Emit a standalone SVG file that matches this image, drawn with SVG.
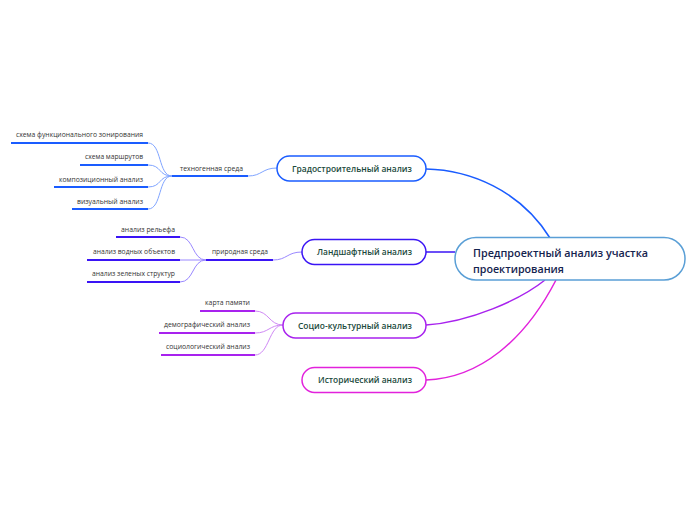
<svg xmlns="http://www.w3.org/2000/svg" width="696" height="520" viewBox="0 0 696 520">
<style>
.node{fill:#fff;stroke-width:1.5}
.nt{font-family:"Open Sans","Noto Sans",sans-serif;font-weight:600;font-size:9.5px;fill:#1b4a3c;text-anchor:middle}
.ct{font-family:"Open Sans","Noto Sans",sans-serif;font-weight:600;font-size:11.5px;fill:#14234f}
.lt{font-family:"Open Sans","Noto Sans",sans-serif;font-size:7px;fill:#333;text-anchor:end}
.st{font-family:"Open Sans","Noto Sans",sans-serif;font-size:7px;fill:#333}
.c{fill:none}
</style>
<rect width="696" height="520" fill="#fff"/>
<g id="connectors">
<path class="c" d="M426,169 C470,170 520,190 550,238" stroke="#1a5cff" stroke-width="1.5"/>
<path class="c" d="M426,252 L455,252" stroke="#3a14f5" stroke-width="1.5"/>
<path class="c" d="M426,325 C470,322 520,300 545,280" stroke="#a822ee" stroke-width="1.5"/>
<path class="c" d="M426,380 C480,378 525,340 556,280" stroke="#e222dc" stroke-width="1.5"/>
<path class="c" d="M248,176 C262,176 262,168 277,168" stroke="#7fa4ff" stroke-width="1"/>
<path class="c" d="M148,143 C162,143 158,176 172,176" stroke="#7fa4ff" stroke-width="1"/>
<path class="c" d="M148,165 C162,165 158,176 172,176" stroke="#7fa4ff" stroke-width="1"/>
<path class="c" d="M148,187 C162,187 158,176 172,176" stroke="#7fa4ff" stroke-width="1"/>
<path class="c" d="M148,209 C162,209 158,176 172,176" stroke="#7fa4ff" stroke-width="1"/>
<path class="c" d="M273,260 C287,260 287,252 302,252" stroke="#9a88ff" stroke-width="1"/>
<path class="c" d="M180,237 C194,237 192,260 206,260" stroke="#9a88ff" stroke-width="1"/>
<path class="c" d="M180,260 L206,260" stroke="#9a88ff" stroke-width="1"/>
<path class="c" d="M180,282 C194,282 192,260 206,260" stroke="#9a88ff" stroke-width="1"/>
<path class="c" d="M255,311 C269,311 269,325 283,325" stroke="#cf88f5" stroke-width="1"/>
<path class="c" d="M255,333 C269,333 269,325 283,325" stroke="#cf88f5" stroke-width="1"/>
<path class="c" d="M255,355 C269,355 269,325 283,325" stroke="#cf88f5" stroke-width="1"/>
</g>
<g id="central">
<rect class="node" x="455" y="237.5" width="230" height="42.5" rx="21" stroke="#5a9fd6"/>
<text class="ct" x="473" y="257" textLength="175" lengthAdjust="spacingAndGlyphs">Предпроектный анализ участка</text>
<text class="ct" x="473" y="273" textLength="91" lengthAdjust="spacingAndGlyphs">проектирования</text>
</g>
<g id="grad">
<rect class="node" x="277" y="156" width="149" height="25" rx="12.5" stroke="#1a5cff"/>
<text class="nt" x="352" y="172" textLength="120" lengthAdjust="spacingAndGlyphs">Градостроительный анализ</text>
</g>
<g id="tech">
<line x1="172" y1="176" x2="248" y2="176" stroke="#1a5cff" stroke-width="2"/>
<text class="st" x="180" y="171" textLength="63" lengthAdjust="spacingAndGlyphs">техногенная среда</text>
</g>
<g id="leaf1">
<line x1="11" y1="143" x2="148" y2="143" stroke="#1a5cff" stroke-width="2"/>
<text class="lt" x="143" y="137" textLength="127" lengthAdjust="spacingAndGlyphs">схема функционального зонирования</text>
</g>
<g id="leaf2">
<line x1="80" y1="165" x2="148" y2="165" stroke="#1a5cff" stroke-width="2"/>
<text class="lt" x="143" y="159" textLength="58" lengthAdjust="spacingAndGlyphs">схема маршрутов</text>
</g>
<g id="leaf3">
<line x1="54" y1="187" x2="148" y2="187" stroke="#1a5cff" stroke-width="2"/>
<text class="lt" x="143" y="182" textLength="84" lengthAdjust="spacingAndGlyphs">композиционный анализ</text>
</g>
<g id="leaf4">
<line x1="72" y1="209" x2="148" y2="209" stroke="#1a5cff" stroke-width="2"/>
<text class="lt" x="143" y="204" textLength="66" lengthAdjust="spacingAndGlyphs">визуальный анализ</text>
</g>
<g id="land">
<rect class="node" x="302" y="239.5" width="124" height="25" rx="12.5" stroke="#3a14f5"/>
<text class="nt" x="364.5" y="255" textLength="95" lengthAdjust="spacingAndGlyphs">Ландшафтный анализ</text>
</g>
<g id="nature">
<line x1="206" y1="260" x2="273" y2="260" stroke="#3a14f5" stroke-width="2"/>
<text class="st" x="212" y="254" textLength="56" lengthAdjust="spacingAndGlyphs">природная среда</text>
</g>
<g id="leaf5">
<line x1="116" y1="237" x2="180" y2="237" stroke="#3a14f5" stroke-width="2"/>
<text class="lt" x="175" y="232" textLength="54" lengthAdjust="spacingAndGlyphs">анализ рельефа</text>
</g>
<g id="leaf6">
<line x1="87" y1="260" x2="180" y2="260" stroke="#3a14f5" stroke-width="2"/>
<text class="lt" x="175" y="254" textLength="82" lengthAdjust="spacingAndGlyphs">анализ водных объектов</text>
</g>
<g id="leaf7">
<line x1="87" y1="282" x2="180" y2="282" stroke="#3a14f5" stroke-width="2"/>
<text class="lt" x="175" y="276" textLength="83" lengthAdjust="spacingAndGlyphs">анализ зеленых структур</text>
</g>
<g id="socio">
<rect class="node" x="283" y="313" width="143" height="25" rx="12.5" stroke="#a822ee"/>
<text class="nt" x="355" y="329" textLength="114" lengthAdjust="spacingAndGlyphs">Социо-культурный анализ</text>
</g>
<g id="leaf8">
<line x1="200" y1="311" x2="255" y2="311" stroke="#a822ee" stroke-width="2"/>
<text class="lt" x="250" y="305" textLength="45" lengthAdjust="spacingAndGlyphs">карта памяти</text>
</g>
<g id="leaf9">
<line x1="159" y1="333" x2="255" y2="333" stroke="#a822ee" stroke-width="2"/>
<text class="lt" x="250" y="327" textLength="86" lengthAdjust="spacingAndGlyphs">демографический анализ</text>
</g>
<g id="leaf10">
<line x1="161" y1="355" x2="255" y2="355" stroke="#a822ee" stroke-width="2"/>
<text class="lt" x="250" y="349" textLength="84" lengthAdjust="spacingAndGlyphs">социологический анализ</text>
</g>
<g id="hist">
<rect class="node" x="302" y="367.5" width="124" height="25" rx="12.5" stroke="#e222dc"/>
<text class="nt" x="365" y="383" textLength="94" lengthAdjust="spacingAndGlyphs">Исторический анализ</text>
</g>
</svg>
